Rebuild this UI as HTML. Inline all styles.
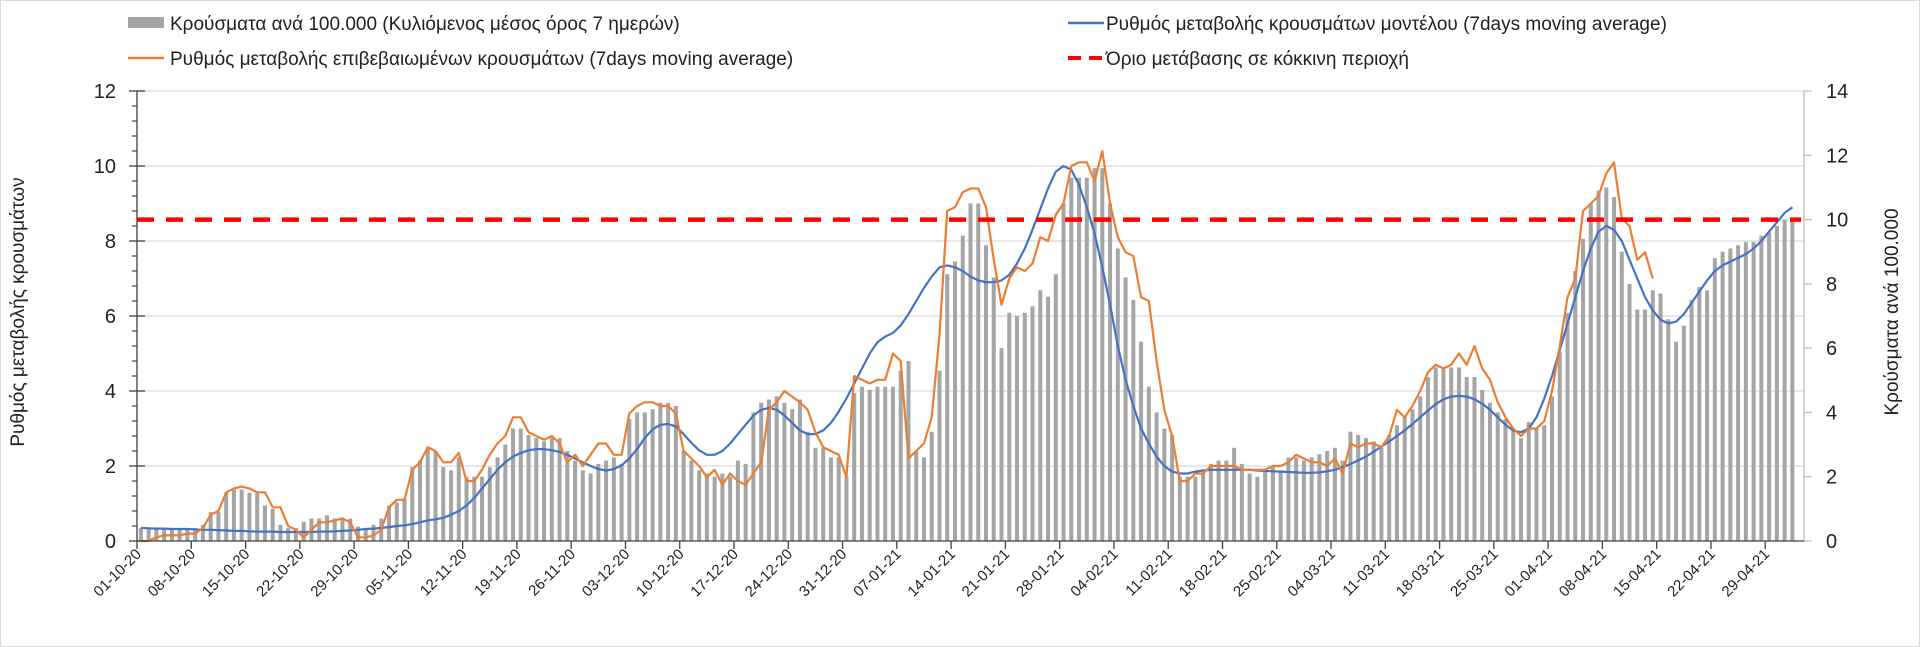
<!DOCTYPE html>
<html><head><meta charset="utf-8"><style>
html,body{margin:0;padding:0;background:#fff;}
svg{display:block;font-family:"Liberation Sans",sans-serif;}
</style></head><body>
<svg id="chart" width="1920" height="647" viewBox="0 0 1920 647">
<rect x="0.5" y="0.5" width="1919" height="646" fill="#fff" stroke="#d9d9d9"/>
<g id="grid"></g>
<g id="bars"></g>
<g id="lines"></g>
<g id="axes"></g>
<g id="legend">
  <g>
    <rect x="128" y="17" width="36" height="11" fill="#a5a5a5"/>
    <text x="170" y="30" font-size="19" fill="#222">Κρούσματα ανά 100.000 (Κυλιόμενος μέσος όρος 7 ημερών)</text>
  </g>
  <g>
    <line x1="128" y1="58" x2="164" y2="58" stroke="#ed7d31" stroke-width="2.5"/>
    <text x="170" y="65" font-size="19" fill="#222">Ρυθμός μεταβολής επιβεβαιωμένων κρουσμάτων (7days moving average)</text>
  </g>
  <g>
    <line x1="1068" y1="23" x2="1104" y2="23" stroke="#4472c4" stroke-width="2.5"/>
    <text x="1106" y="30" font-size="19" fill="#222">Ρυθμός μεταβολής κρουσμάτων μοντέλου (7days moving average)</text>
  </g>
  <g>
    <line x1="1068" y1="58" x2="1104" y2="58" stroke="#ff0000" stroke-width="4" stroke-dasharray="13,8"/>
    <text x="1106" y="65" font-size="19" fill="#222">Όριο μετάβασης σε κόκκινη περιοχή</text>
  </g>
</g>
<text transform="translate(24,312) rotate(-90)" text-anchor="middle" font-size="19" fill="#222">Ρυθμός μεταβολής κρουσμάτων</text>
<text transform="translate(1898,312) rotate(-90)" text-anchor="middle" font-size="19" fill="#222">Κρούσματα ανά 100.000</text>
</svg>
<script>
const startDay = [2020, 9, 1];
const casesPer100k = [
0.4,0.4,0.4,0.4,0.4,0.4,0.35,
0.4,0.5,0.9,0.9,1.5,1.6,1.6,
1.5,1.5,1.1,1.0,0.5,0.4,0.4,
0.6,0.7,0.7,0.8,0.7,0.7,0.7,
0.45,0.4,0.5,0.7,1.1,1.2,1.3,
2.3,2.5,2.9,2.8,2.3,2.2,2.6,
2.0,2.0,2.0,2.3,2.6,3.0,3.5,
3.5,3.3,3.2,3.1,3.2,3.2,2.8,
2.5,2.2,2.1,2.4,2.5,2.6,2.4,
3.8,4.0,4.0,4.1,4.3,4.3,4.2,
2.8,2.5,2.2,2.1,2.0,2.1,2.0,
2.5,2.4,4.0,4.3,4.4,4.5,4.3,
4.1,4.4,3.4,2.9,2.9,2.6,2.6,
2.0,4.6,4.8,4.7,4.8,4.8,4.8,
5.3,5.6,2.8,2.6,3.4,5.3,8.3,
8.7,9.5,10.5,10.5,9.2,8.2,6.0,
7.1,7.0,7.1,7.3,7.8,7.6,8.3,
10.5,11.3,11.3,11.3,11.6,11.6,10.5,
9.1,8.2,7.5,6.2,4.8,4.0,3.5,
3.3,2.0,2.0,2.0,2.1,2.4,2.5,
2.5,2.9,2.4,2.1,2.0,2.2,2.3,
2.2,2.6,2.6,2.5,2.6,2.7,2.8,
2.9,2.5,3.4,3.3,3.2,3.1,2.9,
3.3,3.6,3.9,4.1,4.5,5.1,5.4,
5.4,5.4,5.4,5.1,5.1,4.7,4.3,
4.0,3.8,3.5,3.2,3.7,3.5,3.6,
4.5,5.9,7.1,8.4,9.4,10.5,10.9,
11.0,10.7,9.0,8.0,7.2,7.2,7.8,
7.7,6.9,6.2,6.7,7.5,7.9,7.8,
8.8,9.0,9.1,9.2,9.3,9.3,9.5,
9.6,9.8,10.0,10.0];
const confirmedRate = [
0,0,0.1,0.15,0.15,0.15,0.2,
0.2,0.35,0.7,0.8,1.3,1.4,1.45,
1.4,1.3,1.3,0.9,0.9,0.4,0.3,
0.1,0.3,0.5,0.5,0.55,0.6,0.5,
0.1,0.1,0.15,0.3,0.9,1.1,1.1,
1.9,2.1,2.5,2.4,2.1,2.1,2.35,
1.6,1.6,1.9,2.3,2.6,2.8,3.3,
3.3,2.9,2.8,2.7,2.8,2.6,2.1,
2.3,2.0,2.3,2.6,2.6,2.3,2.3,
3.4,3.6,3.7,3.7,3.6,3.6,3.4,
2.4,2.2,2.0,1.7,1.9,1.5,1.8,
1.6,1.5,1.8,2.1,3.5,3.7,4.0,
3.85,3.7,3.5,2.9,2.5,2.4,2.3,
1.7,4.4,4.3,4.2,4.3,4.3,5.0,
4.8,2.2,2.4,2.6,3.3,5.5,8.8,
8.9,9.3,9.4,9.4,8.9,7.5,6.3,
7.0,7.3,7.2,7.4,8.1,8.0,8.7,
9.0,10.0,10.1,10.1,9.6,10.4,9.0,
8.1,7.7,7.6,6.5,6.4,4.8,3.5,
2.8,1.6,1.6,1.8,1.8,2.0,2.0,
2.0,2.0,1.9,1.9,1.9,1.9,2.0,
2.0,2.1,2.3,2.2,2.1,2.1,2.0,
2.2,1.8,2.6,2.5,2.6,2.6,2.5,
2.8,3.5,3.3,3.6,4.0,4.5,4.7,
4.6,4.7,5.0,4.7,5.2,4.6,4.3,
3.7,3.3,3.0,2.8,3.0,3.0,3.2,
4.0,5.2,6.5,7.0,8.8,9.0,9.2,
9.8,10.1,8.6,8.4,7.5,7.7,7.0];
const modelRate = [
0.35,0.34,0.33,0.33,0.32,0.32,0.32,
0.31,0.3,0.3,0.29,0.28,0.27,0.27,
0.26,0.25,0.25,0.25,0.24,0.24,0.24,
0.24,0.24,0.25,0.25,0.26,0.27,0.28,
0.3,0.32,0.33,0.35,0.37,0.4,0.42,
0.45,0.5,0.55,0.58,0.62,0.7,0.8,
0.95,1.15,1.4,1.65,1.9,2.1,2.25,
2.35,2.42,2.45,2.45,2.42,2.38,2.3,
2.2,2.1,2.0,1.92,1.88,1.92,2.02,
2.2,2.45,2.75,2.98,3.1,3.12,3.05,
2.85,2.62,2.42,2.3,2.3,2.4,2.6,
2.85,3.1,3.35,3.5,3.55,3.5,3.35,
3.15,2.95,2.85,2.85,2.95,3.15,3.45,
3.8,4.2,4.6,5.0,5.3,5.45,5.55,
5.75,6.05,6.4,6.75,7.05,7.3,7.35,
7.3,7.2,7.05,6.95,6.9,6.9,6.95,
7.1,7.4,7.8,8.3,8.85,9.4,9.85,
10.0,9.9,9.5,8.9,8.2,7.3,6.3,
5.2,4.3,3.6,3.0,2.6,2.25,2.0,
1.85,1.8,1.8,1.85,1.88,1.9,1.9,
1.9,1.9,1.9,1.9,1.88,1.87,1.86,
1.85,1.84,1.83,1.82,1.82,1.83,1.86,
1.9,1.97,2.05,2.15,2.25,2.38,2.52,
2.65,2.8,2.95,3.12,3.3,3.48,3.65,
3.78,3.85,3.87,3.85,3.78,3.66,3.5,
3.3,3.1,2.95,2.9,3.0,3.3,3.8,
4.4,5.1,5.8,6.5,7.2,7.8,8.25,
8.4,8.3,8.0,7.5,7.0,6.5,6.15,
5.9,5.8,5.85,6.05,6.35,6.65,6.95,
7.2,7.35,7.45,7.55,7.65,7.8,8.0,
8.25,8.5,8.75,8.9];
const redThreshold = [10];
const leftTicks = [0,2,4,6,8,10,12];
const rightTicks = [0,2,4,6,8,10,12,14];
const dateLabels = ["01-10-20","08-10-20","15-10-20","22-10-20","29-10-20","05-11-20","12-11-20","19-11-20","26-11-20","03-12-20","10-12-20","17-12-20","24-12-20","31-12-20","07-01-21","14-01-21","21-01-21","28-01-21","04-02-21","11-02-21","18-02-21","25-02-21","04-03-21","11-03-21","18-03-21","25-03-21","01-04-21","08-04-21","15-04-21","22-04-21","29-04-21"];

const NS = "http://www.w3.org/2000/svg";
const X0 = 137, X1 = 1804, Y0 = 541, Y1 = 91, SLOTS = 215;
const slot = (X1 - X0) / SLOTS;
const xC = i => X0 + (i + 0.5) * slot;
const xB = i => X0 + i * slot;
const yL = v => Y0 - (v / 12) * (Y0 - Y1);
const yR = v => Y0 - (v / 14) * (Y0 - Y1);
function mk(tag, attrs, parent){const e=document.createElementNS(NS,tag);for(const k in attrs)e.setAttribute(k,attrs[k]);parent.appendChild(e);return e;}
const grid=document.getElementById('grid'), bars=document.getElementById('bars'), lines=document.getElementById('lines'), axes=document.getElementById('axes');

leftTicks.forEach(v=>{
  if(v>0){const g=mk('line',{x1:X0,x2:X1,y1:yL(v),y2:yL(v),stroke:'#d9d9d9','stroke-width':1.3},grid);
  
  }
  const t=mk('line',{x1:X0-8,x2:X0+8,y1:yL(v),y2:yL(v),stroke:'#404040','stroke-width':1.3},axes);
  
  
  const l=mk('text',{x:X0-21,y:yL(v)+7,'text-anchor':'end','font-size':20,fill:'#222'},axes);
  l.textContent=v;
  
  
});
for(let v=0.4; v<12; v+=0.4){
  if(Math.abs(v/2-Math.round(v/2))<0.01) continue;
  const m=mk('line',{x1:X0-5,x2:X0,y1:yL(v),y2:yL(v),stroke:'#404040','stroke-width':1.2},axes);
  
  
}
rightTicks.forEach(v=>{
  const t=mk('line',{x1:X1,x2:X1+8,y1:yR(v),y2:yR(v),stroke:'#bfbfbf','stroke-width':1.3},axes);
  
  
  const l=mk('text',{x:X1+22,y:yR(v)+7,'font-size':20,fill:'#222'},axes);
  l.textContent=v;
  
  
});

casesPer100k.forEach((v,i)=>{
  const r=mk('rect',{x:xC(i)-2,y:yR(v),width:4,height:Y0-yR(v),fill:'#a5a5a5'},bars);
  
  
});

function path(arr,yf){return arr.map((v,i)=>(i?'L':'M')+xC(i).toFixed(1)+','+yf(v).toFixed(1)).join(' ');}
const pB=mk('path',{d:path(modelRate,yL),fill:'none',stroke:'#4472c4','stroke-width':2.2,'stroke-linejoin':'round'},lines);


const pO=mk('path',{d:path(confirmedRate,yL),fill:'none',stroke:'#ed7d31','stroke-width':2.2,'stroke-linejoin':'round'},lines);


const red=mk('line',{x1:X0,x2:X1-3,y1:yR(redThreshold[0]),y2:yR(redThreshold[0]),stroke:'#ff0000','stroke-width':4.5,'stroke-dasharray':'17,12'},lines);



const la=mk('line',{x1:X0,x2:X0,y1:Y1,y2:Y0,stroke:'#404040','stroke-width':1.3},axes);


const ra=mk('line',{x1:X1,x2:X1,y1:Y1,y2:Y0,stroke:'#bfbfbf','stroke-width':1.3},axes);


const xa=mk('line',{x1:X0,x2:X1,y1:Y0,y2:Y0,stroke:'#404040','stroke-width':1.3},axes);


dateLabels.forEach((d,k)=>{
  const tx=xB(k*7);
  const t=mk('line',{x1:tx,x2:tx,y1:Y0,y2:Y0+8,stroke:'#404040','stroke-width':1.3},axes);
  
  
  const l=mk('text',{transform:`translate(${tx+5},${Y0+14}) rotate(-45)`,'text-anchor':'end','font-size':15,fill:'#222'},axes);
  l.textContent=d;
  
  
});
</script>
</body></html>
